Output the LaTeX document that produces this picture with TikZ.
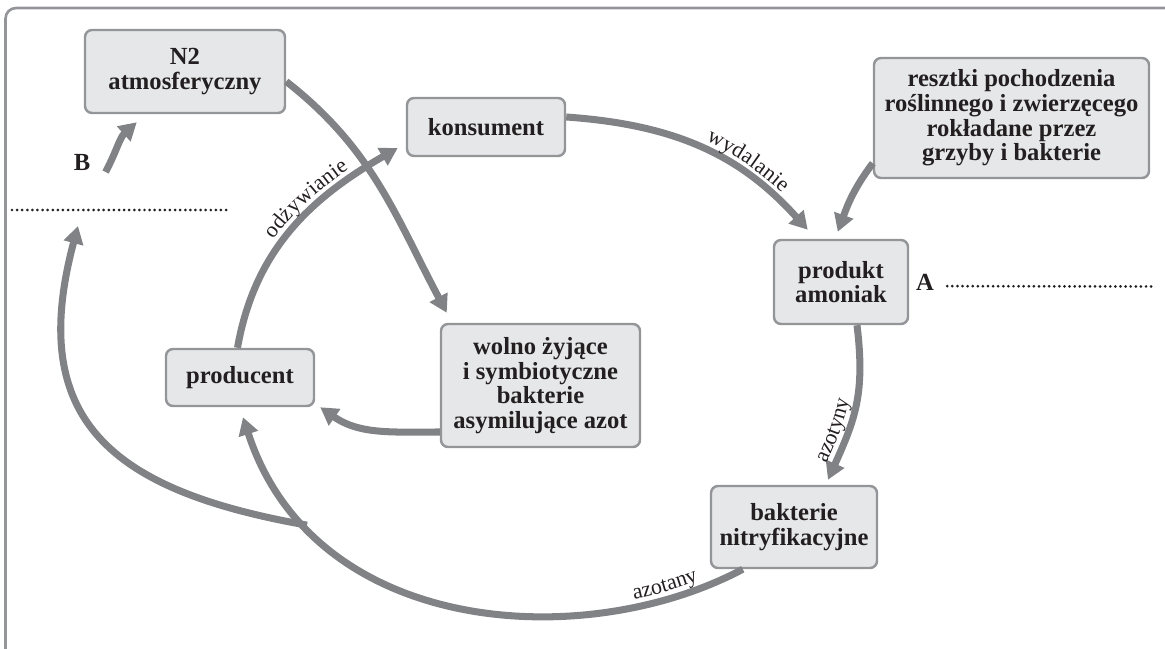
\documentclass[tikz,border=0pt]{standalone}
\usepackage{fontspec}
\setmainfont{Liberation Serif}
\usetikzlibrary{arrows.meta,decorations.text}
\definecolor{boxfill}{HTML}{E6E7E8}
\definecolor{boxdraw}{HTML}{939598}
\definecolor{arrowc}{HTML}{808285}
\definecolor{txt}{HTML}{231F20}
\begin{document}
\begin{tikzpicture}[
  box/.style={draw=boxdraw, line width=1.4pt, fill=boxfill, rounded corners=4pt, align=center,
    font=\fontsize{14}{14}\selectfont\bfseries, text=txt, inner sep=2pt},
  flow/.style={draw=arrowc, line width=4pt, -{Triangle[length=10pt,width=11pt]}},
  letter/.style={font=\fontsize{14}{14}\selectfont\bfseries, text=txt, inner sep=0pt},
  dots/.style={draw=txt, line width=1.7pt, line cap=round, dash pattern=on 0pt off 2.9pt},
  curvlab/.style={decorate, decoration={text along path, raise=#1,
    text format delimiters={[}{]}}}
]
\useasboundingbox (0,0) rectangle (23.3,-12.96);
\clip (0,0) rectangle (23.3,-12.96);
\draw[draw=boxdraw, line width=1.5pt, rounded corners=6pt] (0.11,-0.16) rectangle (23.8,-13.5);

% boxes
\node[box, minimum width=4.0cm, minimum height=1.66cm] (n2) at (3.70,-1.43) {N2\\atmosferyczny};
\node[box, minimum width=3.16cm, minimum height=1.16cm] (kons) at (9.72,-2.54) {konsument};
\node[box, minimum width=5.5cm, minimum height=2.4cm] (resz) at (20.23,-2.36) {resztki pochodzenia\\roślinnego i zwierzęcego\\rokładane przez\\grzyby i bakterie};
\node[box, minimum width=2.68cm, minimum height=1.68cm] (prod) at (16.82,-5.64) {produkt\\amoniak};
\node[box, minimum width=3.98cm, minimum height=2.46cm] (wolno) at (10.81,-7.71) {wolno żyjące\\i symbiotyczne\\bakterie\\asymilujące azot};
\node[box, minimum width=2.96cm, minimum height=1.14cm] (producent) at (4.80,-7.55) {producent};
\node[box, minimum width=3.32cm, minimum height=1.64cm] (nitr) at (15.88,-10.54) {bakterie\\nitryfikacyjne};

% letters and answer lines
\node[letter] (B) at (1.64,-3.24) {B};
\node[letter] (A) at (18.5,-5.64) {A};
\coordinate (dl1) at (0.24,-4.2);
\coordinate (dl2) at (4.54,-4.2);
\draw[dots] (dl1) -- (dl2);
\draw[dots] ([shift={(0.26,0.08)}]A.base east) -- (23.06,-5.73);
\coordinate (bend) at (1.56,-4.52);

% connectors
\draw[flow] ([yshift=-0.2cm]n2.east) to[out=-38,in=118] ([shift={(0.14,0.2)}]wolno.north west);
\draw[flow] ([shift={(0.3,-0.2)}]B.east) to[out=62,in=-138] ([shift={(1.06,-0.16)}]n2.south west);
\draw[flow] ([xshift=-0.05cm]producent.north) .. controls +(80:2) and +(-150:2) .. ([shift={(-0.16,-0.42)}]kons.west);
\draw[flow] ([yshift=0.2cm]kons.east) .. controls +(-4:2.2) and +(132:2) .. ([shift={(0.7,0.18)}]prod.north west);
\draw[flow] ([yshift=0.32cm]resz.south west) to[out=-127,in=70] ([shift={(1.3,0.14)}]prod.north west);
\draw[flow] ([xshift=0.32cm]prod.south) .. controls +(-83:1.4) and +(66:1.3) .. ([shift={(0.68,0.1)}]nitr.north);
\draw[flow] ([yshift=-0.93cm]wolno.west) to[out=180,in=-35] ([xshift=0.1cm]producent.south east);
\draw[flow] ([xshift=0.66cm]nitr.south west) .. controls +(-152:3.6) and +(-72:4.6) .. ([shift={(0.06,-0.2)}]producent.south) coordinate[pos=0.8] (junc);
\draw[flow] (junc) .. controls +(170:4) and +(-105:4) .. (bend);

% connector labels, set along the connectors
\path[curvlab=4.5pt, decoration={text={[\fontsize{12.5}{13}\selectfont\color{txt}]odżywianie}, text align={left indent=64pt}}]
  ([xshift=-0.05cm]producent.north) .. controls +(80:2) and +(-150:2) .. ([shift={(-0.16,-0.42)}]kons.west);
\path[curvlab=4.5pt, decoration={text={[\fontsize{12.5}{13}\selectfont\color{txt}]wydalanie}, text align={left indent=80pt}}]
  ([yshift=0.2cm]kons.east) .. controls +(-4:2.2) and +(132:2) .. ([shift={(0.7,0.18)}]prod.north west);
\path[curvlab=4.5pt, decoration={text={[\fontsize{12.5}{13}\selectfont\color{txt}]azotyny}, text align={left indent=8pt}}]
  ([shift={(0.68,0.1)}]nitr.north) .. controls +(66:1.3) and +(-83:1.4) .. ([xshift=0.32cm]prod.south);
\path[curvlab=4.5pt, decoration={text={[\fontsize{12.5}{13}\selectfont\color{txt}]azotany}, text align={right, right indent=26pt}}]
  ([shift={(0.06,-0.2)}]producent.south) .. controls +(-72:4.6) and +(-152:3.6) .. ([xshift=0.66cm]nitr.south west);
\end{tikzpicture}
\end{document}
